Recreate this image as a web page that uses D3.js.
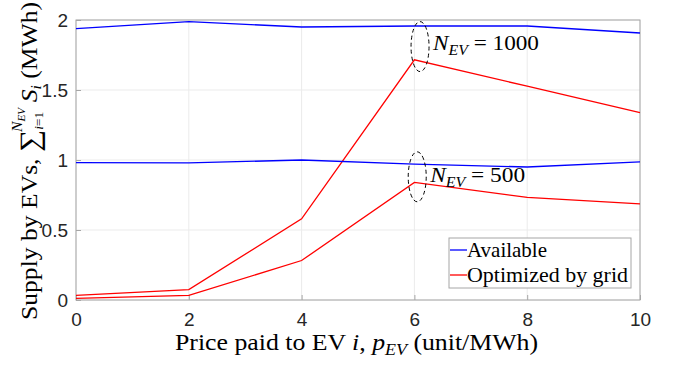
<!DOCTYPE html>
<html lang="en">
<head>
<meta charset="utf-8">
<title>Supply by EVs vs price</title>
<style>
  body { margin : 0; background : #fff; }
  .tick text { font-family : "Liberation Sans", Arial, sans-serif; font-size : 19px; fill : #262626; }
  .serif { font-family : "Liberation Serif", "Times New Roman", serif; fill : #000; }
</style>
</head>
<body>
<div id="chart"></div>
<script src="https://cdn.jsdelivr.net/npm/d3@7"></script>
<script>

// price paid to EV (x)
var prices = [ 0 , 2 , 4 , 6 , 8 , 10 ];

// N_EV = 1000
var available1000 = [ 1.938 , 1.988 , 1.950 , 1.957 , 1.957 , 1.907 ];
var optimized1000 = [ 0.033 , 0.074 , 0.580 , 1.716 , 1.527 , 1.339 ];

// N_EV = 500
var available500 = [ 0.981 , 0.979 , 1.000 , 0.971 , 0.950 , 0.986 ];
var optimized500 = [ 0.012 , 0.033 , 0.282 , 0.840 , 0.733 , 0.687 ];

var xTicks = [ 0 , 2 , 4 , 6 , 8 , 10 ];
var yTicks = [ 0 , 0.5 , 1 , 1.5 , 2 ];
var yTickLabels = [ "0" , "0.5" , "1" , "1.5" , "2" ];

var series = [
    { values : available1000 , color : "#0000ff" },
    { values : optimized1000 , color : "#ff0000" },
    { values : available500 , color : "#0000ff" },
    { values : optimized500 , color : "#ff0000" }
];

var legendItems = [
    { label : "Available" , color : "#0000ff" , len : 80 },
    { label : "Optimized by grid" , color : "#ff0000" , len : 161 }
];

var W = 674 , H = 365;
var margin = { top : 20 , right : 34 , bottom : 65 , left : 76 };
var w = W - margin.left - margin.right;
var h = H - margin.top - margin.bottom;

var svg = d3.select( "#chart" ).append( "svg" )
    .attr( "width" , W )
    .attr( "height" , H );

var g = svg.append( "g" )
    .attr( "transform" , "translate(" + margin.left + "," + margin.top + ")" );

var x = d3.scaleLinear().domain( [ 0 , 10 ] ).range( [ 0 , w ] );
var y = d3.scaleLinear().domain( [ 0 , 2 ] ).range( [ h , 0 ] );

// grid
g.selectAll( ".gx" ).data( xTicks ).enter().append( "line" )
    .attr( "x1" , x ).attr( "x2" , x )
    .attr( "y1" , 0 ).attr( "y2" , h )
    .style( "stroke" , "#ebebeb" ).style( "stroke-width" , 1 );
g.selectAll( ".gy" ).data( yTicks ).enter().append( "line" )
    .attr( "y1" , y ).attr( "y2" , y )
    .attr( "x1" , 0 ).attr( "x2" , w )
    .style( "stroke" , "#ebebeb" ).style( "stroke-width" , 1 );

// axes
var xAxis = g.append( "g" )
    .attr( "transform" , "translate(0," + h + ")" )
    .call( d3.axisBottom( x ).tickValues( xTicks ).tickSize( -5 ).tickPadding( 13 ) );
var yAxis = g.append( "g" )
    .call( d3.axisLeft( y ).tickValues( yTicks ).tickSize( -5 ).tickPadding( 8 )
        .tickFormat( function( d , i ) { return yTickLabels[ i ]; } ) );
[ xAxis , yAxis ].forEach( function( a ) {
    a.select( ".domain" ).remove();
    a.selectAll( ".tick line" ).style( "stroke" , "#a6a6a6" );
} );

// frame
g.append( "rect" )
    .attr( "x" , 0 ).attr( "y" , 0 ).attr( "width" , w ).attr( "height" , h )
    .style( "fill" , "none" ).style( "stroke" , "#a6a6a6" ).style( "stroke-width" , 1 );

// lines
var line = d3.line()
    .x( function( d , i ) { return x( prices[ i ] ); } )
    .y( function( d ) { return y( d ); } );

g.selectAll( ".series" ).data( series ).enter().append( "path" )
    .attr( "d" , function( d ) { return line( d.values ); } )
    .style( "fill" , "none" )
    .style( "stroke" , function( d ) { return d.color; } )
    .style( "stroke-width" , 1.3 );

// ellipses + annotations
var notes = [
    { cx : 6.1 , cy : 1.81 , label : "1000" , tx : 6.33 , ty : 1.783 , len : 106 },
    { cx : 6.05 , cy : 0.88 , label : "500" , tx : 6.28 , ty : 0.846 , len : 95 }
];

g.selectAll( ".ell" ).data( notes ).enter().append( "ellipse" )
    .attr( "cx" , function( d ) { return x( d.cx ); } )
    .attr( "cy" , function( d ) { return y( d.cy ); } )
    .attr( "rx" , 9 ).attr( "ry" , 25 )
    .style( "fill" , "none" ).style( "stroke" , "#000" )
    .style( "stroke-width" , 1 ).style( "stroke-dasharray" , "4,3" );

var nt = g.selectAll( ".note" ).data( notes ).enter().append( "text" )
    .attr( "class" , "serif" )
    .attr( "x" , function( d ) { return x( d.tx ); } )
    .attr( "y" , function( d ) { return y( d.ty ); } )
    .attr( "textLength" , function( d ) { return d.len; } )
    .attr( "lengthAdjust" , "spacingAndGlyphs" )
    .style( "font-size" , "22px" );
nt.append( "tspan" ).style( "font-style" , "italic" ).text( "N" );
nt.append( "tspan" ).style( "font-style" , "italic" ).style( "font-size" , "15px" )
    .attr( "dy" , 5 ).text( "EV" );
nt.append( "tspan" ).attr( "dy" , -5 ).text( function( d ) { return " = " + d.label; } );

// legend
var lg = g.append( "g" ).attr( "transform" , "translate(373,218)" );
lg.append( "rect" )
    .attr( "width" , 182 ).attr( "height" , 50 )
    .style( "fill" , "#fff" ).style( "stroke" , "#a6a6a6" ).style( "stroke-width" , 1 );
var li = lg.selectAll( ".li" ).data( legendItems ).enter().append( "g" )
    .attr( "transform" , function( d , i ) { return "translate(0," + ( 12 + i * 25 ) + ")"; } );
li.append( "line" )
    .attr( "x1" , 1 ).attr( "x2" , 18 )
    .style( "stroke" , function( d ) { return d.color; } ).style( "stroke-width" , 1.3 );
li.append( "text" )
    .attr( "class" , "serif" )
    .attr( "x" , 18 ).attr( "y" , 7 )
    .attr( "textLength" , function( d ) { return d.len; } )
    .attr( "lengthAdjust" , "spacingAndGlyphs" )
    .style( "font-size" , "22px" )
    .text( function( d ) { return d.label; } );

// x label
var xl = svg.append( "text" )
    .attr( "class" , "serif" )
    .attr( "x" , 175 ).attr( "y" , 350 )
    .attr( "textLength" , 363 )
    .attr( "lengthAdjust" , "spacingAndGlyphs" )
    .style( "font-size" , "23px" );
xl.append( "tspan" ).text( "Price paid to EV " );
xl.append( "tspan" ).style( "font-style" , "italic" ).text( "i" );
xl.append( "tspan" ).text( ", " );
xl.append( "tspan" ).style( "font-style" , "italic" ).text( "p" );
xl.append( "tspan" ).style( "font-style" , "italic" ).style( "font-size" , "16px" ).attr( "dy" , 5 ).text( "EV" );
xl.append( "tspan" ).attr( "dy" , -5 ).text( " (unit/MWh)" );

// y label
var yl = svg.append( "text" )
    .attr( "class" , "serif" )
    .attr( "transform" , "translate(37,320) rotate(-90)" )
    .attr( "textLength" , 318 )
    .attr( "lengthAdjust" , "spacingAndGlyphs" )
    .style( "font-size" , "23px" );
yl.append( "tspan" ).text( "Supply by EVs, " );
yl.append( "tspan" ).style( "font-size" , "28px" ).attr( "dy" , 2 ).text( "\u2211" );
yl.append( "tspan" ).style( "font-style" , "italic" ).style( "font-size" , "12px" ).attr( "dy" , 4 ).text( "i" );
yl.append( "tspan" ).style( "font-size" , "12px" ).text( "=1" );
yl.append( "tspan" ).style( "font-style" , "italic" ).style( "font-size" , "14px" ).attr( "dx" , -18 ).attr( "dy" , -21 ).text( "N" );
yl.append( "tspan" ).style( "font-style" , "italic" ).style( "font-size" , "10px" ).attr( "dy" , 3 ).text( "EV" );
yl.append( "tspan" ).style( "font-style" , "italic" ).attr( "dx" , 5 ).attr( "dy" , 12 ).text( "S" );
yl.append( "tspan" ).style( "font-style" , "italic" ).style( "font-size" , "14px" ).attr( "dy" , 4 ).text( "i" );
yl.append( "tspan" ).attr( "dy" , -4 ).text( " (MWh)" );

</script>
</body>
</html>
